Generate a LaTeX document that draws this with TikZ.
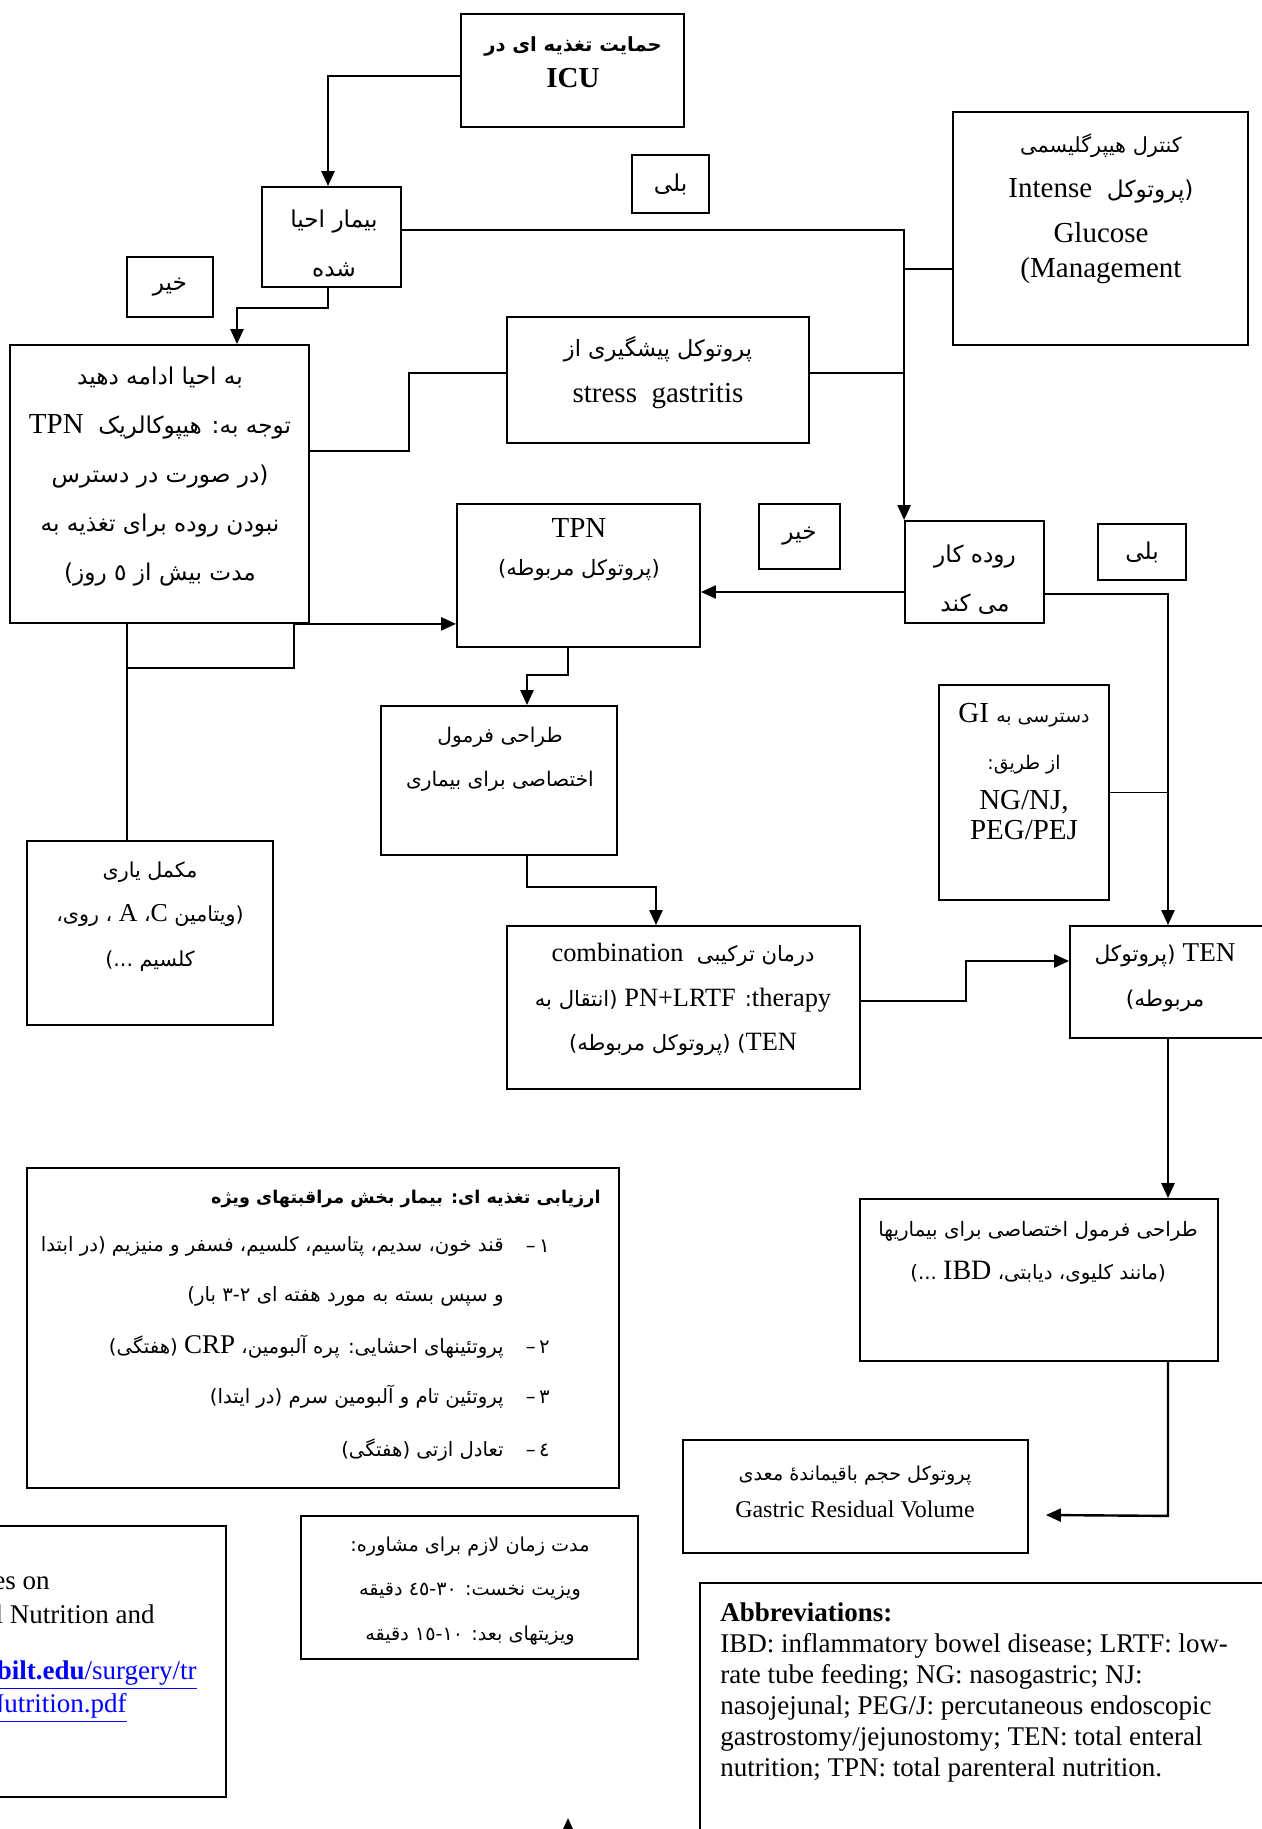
\documentclass[tikz,border=0pt]{standalone}
\usepackage{fontspec}
\setmainfont{Liberation Serif}
\newfontfamily\farsi[Script=Arabic,Scale=0.8]{DejaVu Sans}
\usetikzlibrary{arrows.meta}
\TeXXeTstate=1
\definecolor{linkblue}{HTML}{0000FF}
\newcommand{\fa}[1]{{\farsi\beginR #1\endR}}
\newcommand{\en}[1]{{\rmfamily #1}}

\begin{document}
\begin{tikzpicture}[
  x=0.5pt,
  y=-0.5pt,
  box/.style={draw=black,line width=0.9pt,inner sep=0pt},
  txt/.style={align=center,inner sep=0pt,font=\fontsize{14.5}{22}\selectfont},
  list/.style={txt,anchor=east,font=\fontsize{12.3}{16}\selectfont},
  link/.style={draw=black,line width=0.8pt},
  flow/.style={draw=black,line width=1.2pt,-{Triangle[length=7.5pt,width=6.5pt]}}
]
  % Page frame of the scanned chart; boxes at the border are cut off.
  \useasboundingbox (0,0) rectangle (1262,1829);
  \clip (0,0) rectangle (1262,1829);

  % Boxes of the flow chart.
  \node[box,minimum width=111.5pt,minimum height=56.5pt] (icu) at (572.5,70.5) {};
  \node[box,minimum width=69.5pt,minimum height=50pt] (revived) at (331.5,237) {};
  \node[box,minimum width=147.5pt,minimum height=116.5pt] (hyper) at (1100.5,228.5) {};
  \node[box,minimum width=151pt,minimum height=63pt] (stress) at (658,380) {};
  \node[box,minimum width=149.5pt,minimum height=139pt] (cont) at (159.5,484) {};
  \node[box,minimum width=121.5pt,minimum height=71.5pt] (tpn) at (578.5,575.5) {};
  \node[box,minimum width=69.5pt,minimum height=51pt] (bowel) at (974.5,572) {};
  \node[box,minimum width=118pt,minimum height=74.5pt] (design) at (499,780.5) {};
  \node[box,minimum width=85pt,minimum height=107.5pt] (gi) at (1024,792.5) {};
  \node[box,minimum width=123pt,minimum height=92pt] (supp) at (150,933) {};
  \node[box,minimum width=176.5pt,minimum height=81.5pt] (comb) at (683.5,1007.5) {};
  \node[box,minimum width=98pt,minimum height=56pt] (ten) at (1168,982) {};
  \node[box,minimum width=179pt,minimum height=81pt] (design2) at (1039,1280) {};
  \node[box,minimum width=296pt,minimum height=160pt] (assess) at (323,1328) {};
  \node[box,minimum width=172.5pt,minimum height=56.5pt] (grv) at (855.5,1496.5) {};
  \node[box,minimum width=123pt,minimum height=135.5pt] (refs) at (103,1661.5) {};
  \node[box,minimum width=168.5pt,minimum height=71.5pt] (consult) at (469.5,1587.5) {};
  \node[box,minimum width=290pt,minimum height=133.5pt] (abbr) at (990,1716.5) {};

  % Yes / no tags beside the branches.
  \node[box,txt,minimum width=38.5pt,minimum height=29pt] (yes1) at (670.5,184) {\fa{بلی}};
  \node[box,txt,minimum width=43pt,minimum height=30pt] (no1) at (170,287) {\fa{خیر}};
  \node[box,txt,minimum width=40.5pt,minimum height=32.5pt] (no2) at (799.5,536.5) {\fa{خیر}};
  \node[box,txt,minimum width=44pt,minimum height=28pt] (yes2) at (1142,552) {\fa{بلی}};

  % Texts of the boxes.
  \node[txt,font=\bfseries\fontsize{14.5}{18}\selectfont] (icutext) at (573,62)
    {\fa{\fontsize{12.2}{14}\selectfont حمایت تغذیه ای در}\\\en{ICU}};
  \node[txt,font=\fontsize{14.5}{24.5}\selectfont] (revivedtext) at (334,243.5)
    {\fa{بیمار احیا}\\\fa{شده}};
  \node[txt,font=\fontsize{14.5}{22.5}\selectfont] (hypertext) at (1101,209)
    {\fa{\fontsize{13}{14}\selectfont کنترل هیپرگلیسمی}\\\fa{(پروتوکل\ \ \en{Intense}}\\\en{Glucose}\\[-5pt]\en{(Management}};
  \node[txt,font=\fontsize{14.5}{23}\selectfont] (stresstext) at (658,373)
    {\fa{\fontsize{14}{14}\selectfont پروتوکل پیشگیری از}\\\en{stress\ \ gastritis}};
  \node[txt,font=\fontsize{14.5}{24.6}\selectfont] (conttext) at (160,476.5)
    {\fa{به احیا ادامه دهید}\\\fa{توجه به: هیپوکالریک\ \ \en{TPN}}\\\fa{(در صورت در دسترس}\\
     \fa{نبودن روده برای تغذیه به}\\\fa{مدت بیش از ٥ روز)}};
  \node[txt,font=\fontsize{14.5}{19}\selectfont] (tpntext) at (579,550)
    {\en{TPN}\\\fa{\fontsize{13.2}{14}\selectfont (پروتوکل مربوطه)}};
  \node[txt,font=\fontsize{14.5}{24.5}\selectfont] (boweltext) at (975,579.5)
    {\fa{روده کار}\\\fa{می کند}};
  \node[txt,font=\fontsize{12.6}{22}\selectfont] (designtext) at (500,759)
    {\fa{طراحی فرمول}\\\fa{اختصاصی برای بیماری}};
  \node[txt,font=\fontsize{14.5}{23.5}\selectfont] (gitext) at (1024,771.5)
    {\fa{{\fontsize{11.8}{14}\selectfont دسترسی به} \en{GI}}\\\fa{\fontsize{11.8}{14}\selectfont از طریق:}\\[-3.5pt]\en{NG/NJ,}\\[-8.5pt]\en{PEG/PEJ}};
  \node[txt,font=\fontsize{12.9}{22.25}\selectfont] (supptext) at (150,916.5)
    {\fa{مکمل یاری}\\\fa{(ویتامین \en{C}، \en{A} ، روی،}\\\fa{کلسیم ...)}};
  \node[txt,font=\fontsize{13.2}{22.25}\selectfont] (combtext) at (683,999.5)
    {\fa{درمان ترکیبی\ \ \en{combination}}\\\fa{\en{therapy}: \en{PN+LRTF} (انتقال به}\\
     \fa{\en{TEN}) (پروتوکل مربوطه)}};
  \node[txt,font=\fontsize{13.6}{22.5}\selectfont] (tentext) at (1165,977.5)
    {\fa{\en{TEN} (پروتوکل}\\\fa{مربوطه)}};
  \node[txt,font=\fontsize{12.4}{21.5}\selectfont] (design2text) at (1038,1252.5)
    {\fa{طراحی فرمول اختصاصی برای بیماریها}\\\fa{(مانند کلیوی، دیابتی، \en{\fontsize{14}{14}\selectfont IBD} ...)}};
  \node[txt,font=\fontsize{12}{18.5}\selectfont] (grvtext) at (855,1491.5)
    {\fa{پروتوکل حجم باقیماندهٔ معدی}\\\en{Gastric Residual Volume}};
  \node[txt,font=\fontsize{12}{22.25}\selectfont] (consulttext) at (470,1591)
    {\fa{مدت زمان لازم برای مشاوره:}\\\fa{ویزیت نخست: ٣٠-٤٥ دقیقه}\\\fa{ویزیتهای بعد: ١٠-١٥ دقیقه}};

  % Assessment list, right aligned.
  \node[list,font=\bfseries\fontsize{11}{16}\selectfont] (asstitle) at (601,1199)
    {\fa{ارزیابی تغذیه ای: بیمار بخش مراقبتهای ویژه}};
  \node[list] (ass1) at (504,1246) {\fa{قند خون، سدیم، پتاسیم، کلسیم، فسفر و منیزیم (در ابتدا}};
  \node[list] (ass1b) at (504,1296) {\fa{و سپس بسته به مورد هفته ای ٢-٣ بار)}};
  \node[list] (ass2) at (504,1347) {\fa{پروتئینهای احشایی: پره آلبومین، \en{\fontsize{13.5}{16}\selectfont CRP} (هفتگی)}};
  \node[list] (ass3) at (504,1397) {\fa{پروتئین تام و آلبومین سرم (در ایتدا)}};
  \node[list] (ass4) at (504,1450) {\fa{تعادل ازتی (هفتگی)}};
  \node[list] (num1) at (550,1246) {\fa{١\,–}};
  \node[list] (num2) at (550,1347) {\fa{٢\,–}};
  \node[list] (num3) at (550,1397) {\fa{٣\,–}};
  \node[list] (num4) at (550,1450) {\fa{٤\,–}};

  % Source box, cut at the left border.
  \node[txt,anchor=east,font=\fontsize{13.5}{16}\selectfont] (refs1) at (50,1583) {es on};
  \node[txt,anchor=east,font=\fontsize{13.5}{16}\selectfont] (refs2) at (155,1614) {l Nutrition and};
  \node[txt,anchor=east,font=\fontsize{13.5}{16}\selectfont,text=linkblue] (refs3) at (197,1675)
    {\underline{\textbf{bilt.edu}/surgery/tr}};
  \node[txt,anchor=east,font=\fontsize{13.5}{16}\selectfont,text=linkblue] (refs4) at (127,1708)
    {\underline{Nutrition.pdf}};

  % Abbreviations.
  \node[anchor=north west,align=left,inner sep=0pt,font=\fontsize{13.5}{15.5}\selectfont] (abbrtext) at (720,1602)
    {\textbf{Abbreviations:}\\
     IBD: inflammatory bowel disease; LRTF: low-\\
     rate tube feeding; NG: nasogastric; NJ:\\
     nasojejunal; PEG/J: percutaneous endoscopic\\
     gastrostomy/jejunostomy; TEN: total enteral\\
     nutrition; TPN: total parenteral nutrition.};

  % Named points for bends and free ends.
  \coordinate (contSE) at ([xshift=-8pt]cont.south east);
  \coordinate (suppN) at ([xshift=-11.5pt]supp.north);
  \coordinate (grvIn) at ([xshift=8.5pt,yshift=-9.25pt]grv.east);
  \coordinate (stubA) at (568,1850);
  \coordinate (stubB) at (568,1818);

  % Main flow.
  \draw[flow] ([yshift=-2.75pt]icu.west) -| ([xshift=-1.75pt]revived.north);
  \draw[flow] ([xshift=-1.75pt]revived.south) -- ++(0,20) -| ([xshift=38.75pt]cont.north);
  \draw[flow] ([yshift=3.5pt]revived.east) -| (bowel.north west);
  \draw[link] ([yshift=-20.25pt]hyper.west) -- ([yshift=-20.25pt]hyper.west -| bowel.west);
  \draw[link] ([yshift=3.5pt]stress.east) -- ([yshift=3.5pt]stress.east -| bowel.west);
  \draw[link] ([yshift=16.5pt]cont.east) -- ++(99,0) |- ([yshift=3.5pt]stress.west);

  % Left branch: parenteral feeding.
  \draw[flow] (contSE) -- (contSE -| tpn.west);
  \draw[link] (contSE) -- ++(0,44) -| (suppN);
  \draw[link] (cont.south -| suppN) -- (suppN);
  \draw[flow] ([xshift=-5.25pt]tpn.south) -- ++(0,27) -| ([xshift=14pt]design.north);
  \draw[flow] ([xshift=14pt]design.south) -- ++(0,31) -| ([xshift=-13.75pt]comb.north);

  % Right branch: enteral feeding.
  \draw[flow] ([yshift=-10pt]bowel.west) -- ([yshift=-10pt]bowel.west -| tpn.east);
  \draw[flow] ([yshift=-11pt]bowel.east) -| (ten.north);
  \draw[link] (gi.east) -- (gi.east -| ten.north);
  \draw[flow] ([yshift=3.25pt]comb.east) -- ++(105,0) |- ([yshift=10.5pt]ten.west);
  \draw[flow] (ten.south) -- (ten.south |- design2.north);
  \draw[flow] (ten.south |- design2.south) -- ++(0,154) -- (grvIn);
  \draw[flow] (stubA) -- (stubB);
\end{tikzpicture}
\end{document}
